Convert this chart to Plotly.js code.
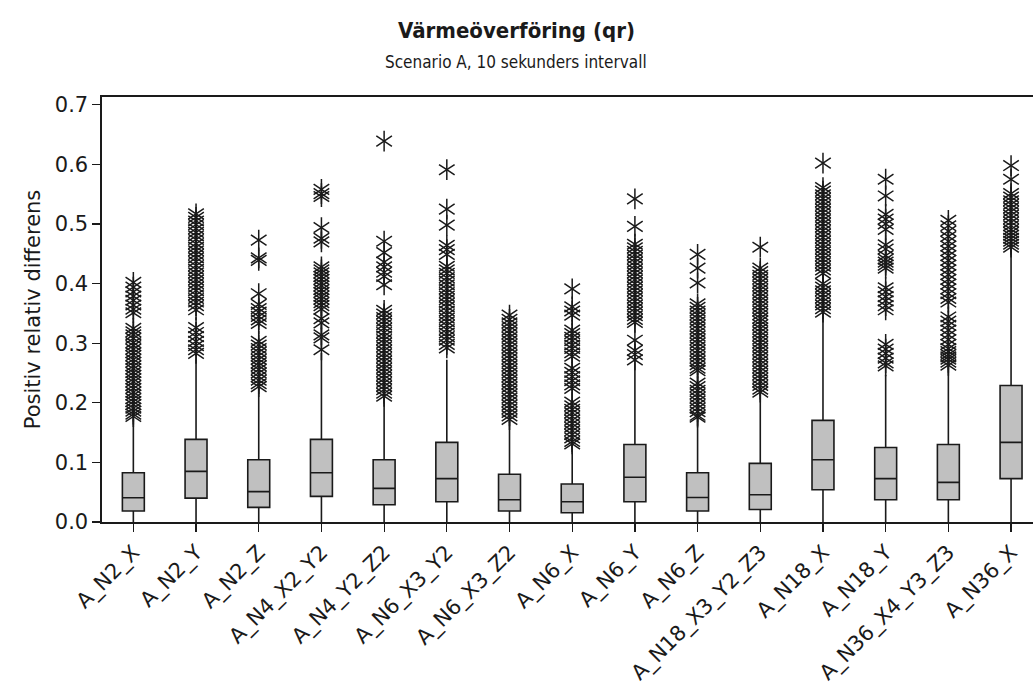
<!DOCTYPE html>
<html>
<head>
<meta charset="utf-8">
<script src="https://cdn.plot.ly/plotly-3.0.1.min.js"></script>
<style>
  html, body { margin: 0; padding: 0; background: #fff; }
  #chart { width: 1033px; height: 697px; }
</style>
</head>
<body>
<div id="chart"></div>
<script>
// Simulation runs compared against the reference heat transfer
const categories = [
  'A_N2_X', 'A_N2_Y', 'A_N2_Z', 'A_N4_X2_Y2', 'A_N4_Y2_Z2', 'A_N6_X3_Y2',
  'A_N6_X3_Z2', 'A_N6_X', 'A_N6_Y', 'A_N6_Z', 'A_N18_X3_Y2_Z3', 'A_N18_X',
  'A_N18_Y', 'A_N36_X4_Y3_Z3', 'A_N36_X'
];

// Box statistics per run
const q1Values     = [0.0185, 0.040, 0.0245, 0.043, 0.029, 0.034, 0.0185, 0.0156, 0.034, 0.0185, 0.021, 0.054, 0.0374, 0.0374, 0.0727];
const medianValues = [0.0408, 0.085, 0.051, 0.0827, 0.0564, 0.0727, 0.0374, 0.034, 0.075, 0.041, 0.0458, 0.1045, 0.0727, 0.0665, 0.1336];
const q3Values     = [0.0827, 0.1386, 0.1045, 0.1386, 0.1045, 0.1336, 0.080, 0.0637, 0.130, 0.0827, 0.0984, 0.1705, 0.125, 0.130, 0.229];
const lowerWhisker = [0, 0, 0, 0, 0, 0, 0, 0, 0, 0, 0, 0, 0, 0, 0];
const upperWhisker = [0.172, 0.272, 0.2275, 0.2835, 0.208, 0.272, 0.169, 0.130, 0.264, 0.1745, 0.2164, 0.348, 0.247, 0.262, 0.457];

// Outliers per run
const outA_N2_X = [0.402, 0.394, 0.386, 0.379, 0.372, 0.364, 0.357, 0.351, 0.325, 0.319, 0.314, 0.308, 0.301, 0.296, 0.290, 0.284, 0.279, 0.273, 0.268, 0.262, 0.257, 0.251, 0.246, 0.240, 0.235, 0.229, 0.224, 0.218, 0.213, 0.207, 0.202, 0.197, 0.191, 0.186, 0.181, 0.177];
const outA_N2_Y = [0.517, 0.511, 0.505, 0.499, 0.492, 0.486, 0.480, 0.474, 0.467, 0.461, 0.455, 0.449, 0.443, 0.437, 0.430, 0.424, 0.418, 0.412, 0.406, 0.400, 0.394, 0.388, 0.381, 0.375, 0.369, 0.363, 0.356, 0.326, 0.318, 0.311, 0.303, 0.296, 0.289, 0.283];
const outA_N2_Z = [0.473, 0.443, 0.439, 0.383, 0.365, 0.358, 0.352, 0.345, 0.339, 0.333, 0.303, 0.297, 0.291, 0.285, 0.279, 0.273, 0.267, 0.262, 0.256, 0.250, 0.244, 0.238, 0.232, 0.227];
const outA_N4_X2_Y2 = [0.558, 0.551, 0.546, 0.494, 0.476, 0.470, 0.428, 0.423, 0.418, 0.412, 0.407, 0.401, 0.396, 0.390, 0.385, 0.379, 0.374, 0.368, 0.363, 0.357, 0.341, 0.334, 0.314, 0.309, 0.289];
const outA_N4_Y2_Z2 = [0.639, 0.471, 0.452, 0.436, 0.428, 0.419, 0.412, 0.398, 0.355, 0.349, 0.343, 0.337, 0.331, 0.325, 0.318, 0.312, 0.306, 0.300, 0.294, 0.288, 0.282, 0.276, 0.270, 0.264, 0.258, 0.252, 0.246, 0.240, 0.234, 0.228, 0.222, 0.216, 0.211];
const outA_N6_X3_Y2 = [0.591, 0.525, 0.498, 0.464, 0.457, 0.449, 0.429, 0.423, 0.417, 0.410, 0.404, 0.398, 0.391, 0.385, 0.379, 0.373, 0.367, 0.361, 0.354, 0.348, 0.342, 0.336, 0.330, 0.323, 0.317, 0.311, 0.305, 0.298, 0.292];
const outA_N6_X3_Z2 = [0.347, 0.340, 0.334, 0.328, 0.322, 0.316, 0.310, 0.304, 0.298, 0.292, 0.286, 0.280, 0.274, 0.268, 0.262, 0.256, 0.250, 0.244, 0.238, 0.232, 0.226, 0.220, 0.214, 0.208, 0.202, 0.196, 0.190, 0.184, 0.178, 0.172];
const outA_N6_X = [0.391, 0.361, 0.354, 0.347, 0.322, 0.316, 0.310, 0.304, 0.297, 0.291, 0.284, 0.278, 0.258, 0.251, 0.244, 0.237, 0.230, 0.224, 0.201, 0.195, 0.189, 0.183, 0.177, 0.171, 0.165, 0.159, 0.153, 0.147, 0.141, 0.135, 0.131];
const outA_N6_Y = [0.542, 0.496, 0.466, 0.460, 0.454, 0.448, 0.442, 0.436, 0.430, 0.424, 0.418, 0.412, 0.406, 0.400, 0.394, 0.388, 0.382, 0.376, 0.370, 0.364, 0.358, 0.352, 0.346, 0.340, 0.335, 0.305, 0.288, 0.281, 0.272];
const outA_N6_Z = [0.449, 0.426, 0.401, 0.366, 0.360, 0.354, 0.348, 0.342, 0.336, 0.330, 0.324, 0.318, 0.312, 0.306, 0.300, 0.294, 0.288, 0.282, 0.276, 0.270, 0.264, 0.258, 0.254, 0.233, 0.227, 0.221, 0.215, 0.209, 0.203, 0.197, 0.191, 0.185, 0.179, 0.176];
const outA_N18_X3_Y2_Z3 = [0.461, 0.426, 0.420, 0.414, 0.408, 0.402, 0.396, 0.390, 0.384, 0.378, 0.372, 0.366, 0.360, 0.354, 0.348, 0.342, 0.337, 0.331, 0.325, 0.319, 0.313, 0.307, 0.301, 0.295, 0.289, 0.283, 0.277, 0.271, 0.265, 0.259, 0.253, 0.247, 0.241, 0.235, 0.229, 0.223, 0.218];
const outA_N18_X = [0.602, 0.561, 0.555, 0.549, 0.543, 0.537, 0.531, 0.525, 0.519, 0.513, 0.507, 0.501, 0.495, 0.489, 0.483, 0.477, 0.471, 0.465, 0.459, 0.453, 0.447, 0.441, 0.435, 0.429, 0.423, 0.417, 0.400, 0.394, 0.388, 0.382, 0.376, 0.370, 0.364, 0.358, 0.352];
const outA_N18_Y = [0.575, 0.547, 0.516, 0.508, 0.500, 0.491, 0.465, 0.458, 0.447, 0.441, 0.436, 0.431, 0.426, 0.393, 0.386, 0.378, 0.371, 0.363, 0.356, 0.298, 0.290, 0.283, 0.275, 0.267, 0.262];
const outA_N36_X4_Y3_Z3 = [0.506, 0.497, 0.488, 0.479, 0.471, 0.463, 0.455, 0.447, 0.439, 0.431, 0.423, 0.415, 0.407, 0.399, 0.391, 0.383, 0.375, 0.369, 0.344, 0.337, 0.330, 0.322, 0.314, 0.306, 0.298, 0.291, 0.286, 0.281, 0.277, 0.273, 0.268, 0.263];
const outA_N36_X = [0.598, 0.575, 0.551, 0.545, 0.539, 0.533, 0.527, 0.521, 0.515, 0.509, 0.503, 0.497, 0.491, 0.486, 0.481, 0.476, 0.471, 0.466, 0.461];

const yTickValues = [0, 0.1, 0.2, 0.3, 0.4, 0.5, 0.6, 0.7];
const yTickLabels = ['0.0', '0.1', '0.2', '0.3', '0.4', '0.5', '0.6', '0.7'];

const outlierSets = [
  outA_N2_X, outA_N2_Y, outA_N2_Z, outA_N4_X2_Y2, outA_N4_Y2_Z2, outA_N6_X3_Y2,
  outA_N6_X3_Z2, outA_N6_X, outA_N6_Y, outA_N6_Z, outA_N18_X3_Y2_Z3, outA_N18_X,
  outA_N18_Y, outA_N36_X4_Y3_Z3, outA_N36_X
];

const outX = [], outY = [];
outlierSets.forEach((vals, i) => {
  vals.forEach(v => { outX.push(categories[i]); outY.push(v); });
});

const TITLE_FONT = 'DejaVu Sans Condensed, DejaVu Sans, sans-serif';
const AXIS_FONT = 'DejaVu Sans, Verdana, sans-serif';
const INK = '#1a1a1a';

const boxes = {
  type: 'box',
  x: categories,
  q1: q1Values,
  median: medianValues,
  q3: q3Values,
  lowerfence: lowerWhisker,
  upperfence: upperWhisker,
  boxpoints: false,
  width: 0.35,
  whiskerwidth: 0,
  fillcolor: '#c0c0c0',
  line: { color: INK, width: 1.6 },
  hoverinfo: 'skip',
  showlegend: false
};

// Six-armed asterisk: an upright Y laid over an inverted Y
function starHalf(symbol) {
  return {
    type: 'scatter',
    mode: 'markers',
    x: outX,
    y: outY,
    marker: {
      symbol: symbol,
      size: 13,
      color: INK,
      line: { color: INK, width: 1.5 }
    },
    hoverinfo: 'skip',
    showlegend: false
  };
}

const layout = {
  width: 1033,
  height: 697,
  paper_bgcolor: '#ffffff',
  plot_bgcolor: '#ffffff',
  font: { family: AXIS_FONT, color: INK, size: 18 },
  margin: { l: 102, r: 0, t: 97, b: 175, pad: 0 },
  title: {
    text: '<b>Värmeöverföring (qr)</b>',
    font: { family: TITLE_FONT, size: 22, color: INK },
    xref: 'container', x: 0.5, xanchor: 'center',
    yref: 'container', y: 1 - 30 / 697, yanchor: 'middle'
  },
  annotations: [{
    text: 'Scenario A, 10 sekunders intervall',
    xref: 'paper', yref: 'paper',
    x: (516 - 102) / 931, y: (522 - 62) / 425,
    xanchor: 'center', yanchor: 'middle',
    showarrow: false,
    font: { family: TITLE_FONT, size: 17, color: INK }
  }],
  xaxis: {
    type: 'category',
    range: [-0.5, 14.35],
    showline: true, linecolor: INK, linewidth: 1.6, mirror: true,
    ticks: 'outside', ticklen: 8, tickwidth: 1.2, tickcolor: INK,
    tickangle: -45,
    tickfont: { family: AXIS_FONT, size: 21, color: INK },
    showgrid: false, zeroline: false
  },
  yaxis: {
    range: [0, 0.713],
    tickvals: yTickValues,
    ticktext: yTickLabels,
    showline: true, linecolor: INK, linewidth: 1.6,
    ticks: 'outside', ticklen: 8, tickwidth: 1.2, tickcolor: INK,
    tickfont: { family: AXIS_FONT, size: 21, color: INK },
    showgrid: false, zeroline: false,
    title: {
      text: 'Positiv relativ differens',
      font: { family: AXIS_FONT, size: 21, color: INK },
      standoff: 8
    }
  }
};

Plotly.newPlot('chart', [boxes, starHalf('y-up-open'), starHalf('y-down-open')], layout,
  { displayModeBar: false, staticPlot: true });
</script>
</body>
</html>
